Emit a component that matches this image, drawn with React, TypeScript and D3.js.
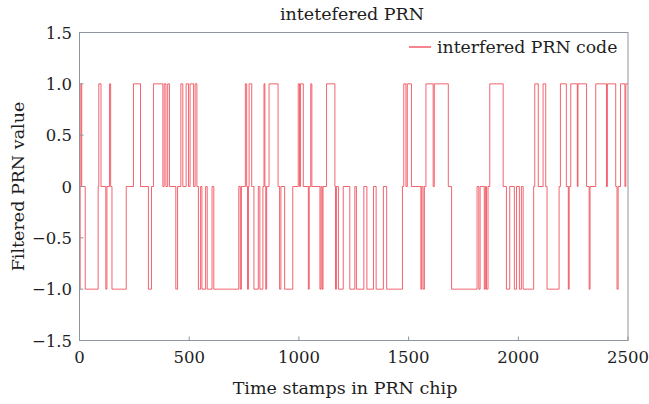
import React from "react";
import * as d3 from "d3";

// Chip-level transitions of the filtered PRN code: the level holds from each time until the next.
const changeTimes: number[] = [
  0, 3, 6, 10, 26, 85, 88, 98, 120, 125, 137, 142, 148, 213, 246, 278, 314, 328, 337, 380,
  386, 394, 402, 410, 439, 447, 462, 471, 486, 497, 504, 520, 527, 535, 542, 552, 558, 575,
  582, 604, 612, 726, 733, 738, 756, 762, 766, 770, 773, 785, 795, 815, 822, 836, 841, 845,
  849, 853, 864, 905, 912, 918, 935, 972, 997, 1003, 1007, 1020, 1043, 1047, 1054, 1059,
  1096, 1101, 1106, 1110, 1126, 1164, 1167, 1171, 1180, 1202, 1232, 1255, 1262, 1296, 1310,
  1340, 1352, 1385, 1400, 1472, 1478, 1488, 1494, 1513, 1556, 1560, 1566, 1572, 1579, 1612,
  1617, 1681, 1696, 1812, 1820, 1826, 1845, 1850, 1855, 1862, 1870, 1931, 1946, 1961, 1982,
  1992, 2005, 2014, 2022, 2070, 2075, 2091, 2113, 2125, 2131, 2186, 2192, 2219, 2228, 2232,
  2239, 2269, 2272, 2311, 2323, 2327, 2353, 2402, 2406, 2444, 2450, 2455, 2466, 2486, 2490,
  2500,
];
const levels: number[] = [
  -1, 0, 1, 0, -1, 0, 1, 0, -1, 0, 1, 0, -1, 0, 1, 0, -1, 0, 1, 0,
  1, 0, 1, 0, -1, 0, 1, 0, 1, 0, 1, 0, 1, 0, -1, 0, -1, 0,
  -1, 0, -1, 0, -1, 0, 1, 0, -1, 0, 1, 0, -1, 0, -1, 0, 1, 0,
  -1, 0, 1, 0, -1, 0, -1, 0, 1, 0, 1, 0, -1, 0, 1, 0,
  -1, 0, -1, 0, 1, 0, -1, 0, -1, 0, -1, 0, -1, 0, -1,
  0, -1, 0, -1, 0, 1, 0, 1, 0, -1, 0, -1, 0, 1, 0,
  1, 0, -1, 0, -1, 0, -1, 0, -1, 0, 1, 0, -1, 0, -1,
  0, -1, 0, -1, 0, 1, 0, 1, 0, -1, 0, 1, 0, -1, 0,
  1, 0, 1, 0, -1, 0, 1, 0, 1, 0, -1, 0, 1, 0, 1,
  1,
];

const xTicks: number[] = [0, 500, 1000, 1500, 2000, 2500];
const yTicks: number[] = [-1.5, -1.0, -0.5, 0, 0.5, 1.0, 1.5];
const yTickLabels: string[] = ["\u22121.5", "\u22121.0", "\u22120.5", "0", "0.5", "1.0", "1.5"];

const W = 649;
const H = 404;
const left = 79.5;
const right = 628;
const top = 32.5;
const bottom = 340.5;

const FONT = "'DejaVu Serif', 'Liberation Serif', serif";
const LINE = "#ee3542";
const AXIS = "#8f969e";
const TEXT = "#1e1e1e";

export default function App() {
  const x = d3.scaleLinear().domain([0, 2500]).range([left, right]);
  const y = d3.scaleLinear().domain([-1.5, 1.5]).range([bottom, top]);

  const points: [number, number][] = changeTimes.map((t, i) => [t, levels[i]]);
  const path = d3
    .line<[number, number]>()
    .x((d) => x(d[0]))
    .y((d) => y(d[1]))
    .curve(d3.curveStepAfter)(points) as string;

  return (
    <svg
      width={W}
      height={H}
      style={{ position: "absolute", left: 0, top: 0, background: "#fff" }}
      fontFamily={FONT}
    >
      <rect x={0} y={0} width={W} height={H} fill="#fff" />
      <text x={352} y={20} textAnchor="middle" fontSize={17.5} fill={TEXT}>
        intetefered PRN
      </text>

      <path d={path} fill="none" stroke={LINE} strokeWidth={0.9} strokeOpacity={0.85} />

      {/* plot frame */}
      <rect x={left} y={top} width={right - left} height={bottom - top} fill="none" stroke={AXIS} strokeWidth={1} />

      {xTicks.map((t) => (
        <g key={"x" + t}>
          <line x1={x(t)} x2={x(t)} y1={bottom} y2={bottom - 4} stroke={AXIS} />
          <text x={x(t)} y={363} textAnchor="middle" fontSize={16.5} fill={TEXT}>
            {t}
          </text>
        </g>
      ))}
      {yTicks.map((v, i) => (
        <g key={"y" + v}>
          <line x1={left} x2={left + 4} y1={y(v)} y2={y(v)} stroke={AXIS} />
          <text x={72} y={y(v) + 6} textAnchor="end" fontSize={16.5} fill={TEXT}>
            {yTickLabels[i]}
          </text>
        </g>
      ))}

      <text x={345} y={394} textAnchor="middle" fontSize={17.5} fill={TEXT}>
        Time stamps in PRN chip
      </text>
      <text
        transform={`translate(24, ${(top + bottom) / 2}) rotate(-90)`}
        textAnchor="middle"
        fontSize={17.5}
        fill={TEXT}
      >
        Filtered PRN value
      </text>

      {/* legend */}
      <line x1={409} x2={431} y1={47} y2={47} stroke={LINE} strokeWidth={1.2} />
      <text x={437} y={53} fontSize={17.3} fill={TEXT}>
        interfered PRN code
      </text>
    </svg>
  );
}
